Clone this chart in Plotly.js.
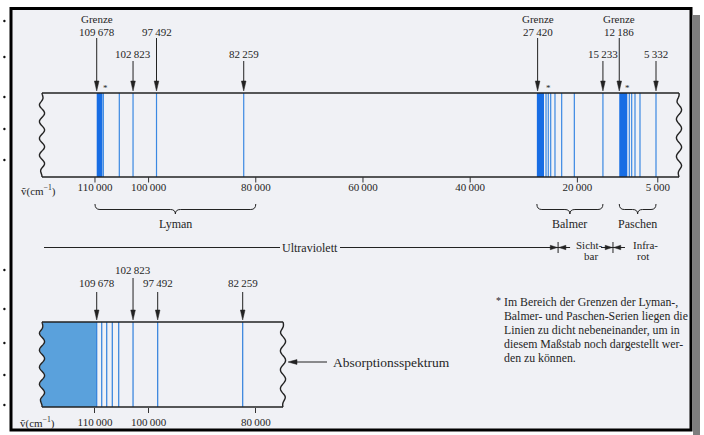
<!DOCTYPE html>
<html><head><meta charset="utf-8">
<script src="https://cdn.plot.ly/plotly-3.0.1.min.js"></script>
<style>html,body{margin:0;padding:0;background:#fff}#chart{width:704px;height:435px}</style>
</head><body><div id="chart"></div>
<script>
// ---------------- data (wavenumbers in cm^-1) ----------------
const tickValues = [110000, 100000, 80000, 60000, 40000, 20000, 5000];
const tickLabels = ['110\u2009000','100\u2009000','80\u2009000','60\u2009000','40\u2009000','20\u2009000','5\u2009000'];
const lowerTickValues = [110000, 100000, 80000];
const lowerTickLabels = ['110\u2009000','100\u2009000','80\u2009000'];

// emission spectrum (upper strip): dense bands near the series limits + single lines
const lymanBand = [108600, 109678];
const lymanLines = [108440, 105460, 102900, 98520, 82250];
const balmerBand = [26230, 27560];
const balmerLines = [25850, 25430, 24980, 24180, 22930, 20570, 15233];
const paschenBand = [10690, 12186];
const paschenLines = [10310, 9870, 9250, 8320, 5332];

// absorption spectrum (lower strip)
const absorptionLimit = 109678;
const absorptionLines = [109678, 108740, 107810, 106770, 105570, 102900, 98300, 82440];

// arrows with labels
const upperArrowPos = [109678, 102900, 98520, 82250, 27420, 15233, 12186, 5332];
const upperArrowText = ['109\u2009678','102\u2009823','97\u2009492','82\u2009259','27\u2009420','15\u2009233','12\u2009186','5\u2009332'];
const upperArrowGrenze = [true, false, false, false, true, false, true, false];
const upperArrowLevel = [0, 1, 0, 1, 0, 1, 0, 1];
const lowerArrowPos = [109678, 102900, 98300, 82440];
const lowerArrowText = ['109\u2009678','102\u2009823','97\u2009492','82\u2009259'];
const lowerArrowLevel = [1, 0, 1, 1];

const starPos = [107950, 25480, 10560];
const seriesNames = ['Lyman', 'Balmer', 'Paschen'];
const seriesFrom = [110000, 27560, 12186];
const seriesTo = [80000, 15233, 5332];
const regionBounds = [23600, 13360];

// ---------------- geometry / style ----------------
const W = 704, H = 435;
const R0 = 127720, R1 = -3623;          // x axis range (reversed wavenumber axis)
const k = (R0 - R1) / W;                // cm^-1 per pixel
const toNu = p => R0 - k * p;
const P = p => +(p / W).toFixed(5);
const SERIF = '"Liberation Serif", "Times New Roman", serif';
const TXT = '#262626';
const INK = '#222';
const BAND = '#176de4';
const LINE = '#3a88e2';
const FILL = '#5aa1dc';
const U = {top: 93, bot: 177, left: 42, right: 679};
const L = {top: 322, bot: 407, left: 42, right: 283};

function wavePts(xc, y0, y1, periods, amp, ph) {
  const pts = [], n = 60;
  for (let i = 0; i <= n; i++) {
    const t = i / n, y = y0 + (y1 - y0) * t;
    const env = Math.min(1, t * 8, (1 - t) * 8);
    pts.push([xc + amp * env * Math.sin(2 * Math.PI * periods * t + ph), y]);
  }
  return pts;
}
function wavePath(pts) {
  return pts.map((p, i) => (i ? 'L' : 'M') + P(p[0]) + ',' + p[1].toFixed(2)).join(' ');
}

const traces = [];
function vlines(vals, y0, y1) {
  const x = [], y = [];
  vals.forEach(v => { x.push(v, v, null); y.push(y0, y1, null); });
  return {x, y};
}
[lymanBand, balmerBand, paschenBand].forEach(b => {
  traces.push({type: 'scatter', mode: 'lines', x: [b[0], b[1], b[1], b[0], b[0]],
    y: [U.top, U.top, U.bot, U.bot, U.top], fill: 'toself', fillcolor: BAND,
    line: {width: 0, color: BAND}, hoverinfo: 'skip', showlegend: false, xaxis: 'x', yaxis: 'y'});
});
const ul = vlines(lymanLines.concat(balmerLines, paschenLines), U.top, U.bot);
traces.push({type: 'scatter', mode: 'lines', x: ul.x, y: ul.y, line: {color: LINE, width: 1.2},
  hoverinfo: 'skip', showlegend: false, xaxis: 'x', yaxis: 'y'});

// lower continuum fill (from wavy left edge to the series limit)
const lw = wavePts(L.left, L.top, L.bot, 5, 2.6, 0.6);
const fx = [absorptionLimit], fy = [L.top];
lw.forEach(p => { fx.push(toNu(p[0] + 0.5)); fy.push(p[1]); });
fx.push(absorptionLimit); fy.push(L.bot);
traces.push({type: 'scatter', mode: 'lines', x: fx, y: fy, fill: 'toself', fillcolor: FILL,
  line: {width: 0, color: FILL}, hoverinfo: 'skip', showlegend: false, xaxis: 'x2', yaxis: 'y'});
const ll = vlines(absorptionLines, L.top, L.bot);
traces.push({type: 'scatter', mode: 'lines', x: ll.x, y: ll.y, line: {color: '#2f7fdc', width: 1.2},
  hoverinfo: 'skip', showlegend: false, xaxis: 'x2', yaxis: 'y'});

// ---------------- shapes ----------------
const shapes = [];
shapes.push({type: 'rect', xref: 'paper', yref: 'y', x0: P(693), x1: P(700), y0: 15, y1: 435,
  fillcolor: '#7d7d7d', line: {width: 0}, layer: 'below'});
shapes.push({type: 'rect', xref: 'paper', yref: 'y', x0: P(11), x1: P(691), y0: 8.5, y1: 430,
  fillcolor: '#f0f1f5', line: {color: '#000', width: 3}, layer: 'below'});
[21, 57, 97, 129, 160, 270, 309, 343, 375, 405].forEach(y => {
  shapes.push({type: 'circle', xref: 'paper', yref: 'y', x0: P(3.2), x1: P(5.6), y0: y - 1.2, y1: y + 1.2,
    fillcolor: '#111', line: {width: 0}, layer: 'below'});
});
function strip(S, phL, phR) {
  shapes.push({type: 'line', xref: 'paper', yref: 'y', x0: P(S.left), x1: P(S.right), y0: S.top, y1: S.top, line: {color: INK, width: 1.4}});
  shapes.push({type: 'line', xref: 'paper', yref: 'y', x0: P(S.left), x1: P(S.right), y0: S.bot, y1: S.bot, line: {color: INK, width: 1.4}});
  shapes.push({type: 'path', xref: 'paper', yref: 'y', path: wavePath(wavePts(S.left, S.top, S.bot, 5, 2.6, phL)), line: {color: INK, width: 1.4}});
  shapes.push({type: 'path', xref: 'paper', yref: 'y', path: wavePath(wavePts(S.right, S.top, S.bot, 4.5, 2.6, phR)), line: {color: INK, width: 1.4}});
}
strip(U, 0.3, 2.2);
strip(L, 0.6, 1.4);

// tick marks of the upper axis (labels come from the axis itself)
tickValues.forEach(v => shapes.push({type: 'line', xref: 'x', yref: 'y', x0: v, x1: v, y0: U.bot, y1: U.bot + 5.5, line: {color: '#333', width: 1}}));

function downArrow(axis, nu, tail, tip) {
  const d = 2.3 * k;
  shapes.push({type: 'line', xref: axis, yref: 'y', x0: nu, x1: nu, y0: tail, y1: tip - 7, line: {color: INK, width: 1}});
  shapes.push({type: 'path', xref: axis, yref: 'y', path: `M${nu - d},${tip - 10} L${nu + d},${tip - 10} L${nu},${tip} Z`,
    fillcolor: INK, line: {color: INK, width: 0.5}});
}
function hHead(tipNu, y, dir) {
  const len = 7 * k, hw = 2.2;
  const base = tipNu + dir * len;
  shapes.push({type: 'path', xref: 'x', yref: 'y', path: `M${base},${y - hw} L${base},${y + hw} L${tipNu},${y} Z`,
    fillcolor: INK, line: {color: INK, width: 0.5}});
}

const annotations = [];
// x is a pixel position for paper-anchored texts, a wavenumber when xref is an axis
function txt(x, y, text, opts) {
  const o = opts || {};
  const xr = o.xref || 'paper';
  annotations.push(Object.assign({x: xr === 'paper' ? P(x) : x, y, xref: xr, yref: 'y', text, showarrow: false,
    font: {family: SERIF, size: 11, color: TXT}, xanchor: 'center', yanchor: 'middle'}, o, {xref: xr}));
}

upperArrowPos.forEach((nu, i) => {
  const lvl = upperArrowLevel[i];
  const ly = lvl ? 54 : 32, tail = lvl ? 61 : 38;
  downArrow('x', nu, tail, 91);
  txt(nu, ly, upperArrowText[i], {xref: 'x'});
  if (upperArrowGrenze[i]) txt(nu, 19, 'Grenze', {xref: 'x'});
});
lowerArrowPos.forEach((nu, i) => {
  const lvl = lowerArrowLevel[i];
  const ly = lvl ? 283 : 270, tail = lvl ? 292 : 278;
  downArrow('x2', nu, tail, 320);
  txt(nu, ly, lowerArrowText[i], {xref: 'x2'});
});
starPos.forEach(nu => txt(nu, 88, '*', {xref: 'x', font: {family: SERIF, size: 9, color: TXT}}));

seriesNames.forEach((name, i) => {
  const a = seriesFrom[i], b = seriesTo[i], m = (a + b) / 2, r = 5 * k;
  const yt = 204, yb = 209.5, yc = 214;
  shapes.push({type: 'path', xref: 'x', yref: 'y',
    path: `M${a},${yt} Q${a},${yb} ${a - r},${yb} L${m + r},${yb} Q${m},${yb} ${m},${yc} Q${m},${yb} ${m - r},${yb} L${b + r},${yb} Q${b},${yb} ${b},${yt}`,
    line: {color: INK, width: 1}});
  txt(m, 224, name, {xref: 'x', font: {family: SERIF, size: 12, color: TXT}});
});

// spectral regions line
const RY = 247.5;
shapes.push({type: 'line', xref: 'paper', yref: 'y', x0: P(44), x1: P(280), y0: RY, y1: RY, line: {color: INK, width: 1}});
shapes.push({type: 'line', xref: 'x', yref: 'y', x0: toNu(340), x1: regionBounds[0] + 6 * k, y0: RY, y1: RY, line: {color: INK, width: 1}});
txt(310, RY, 'Ultraviolett', {font: {family: SERIF, size: 12, color: TXT}});
regionBounds.forEach((nu, i) => {
  shapes.push({type: 'line', xref: 'x', yref: 'y', x0: nu, x1: nu, y0: RY - 5.5, y1: RY + 5.5, line: {color: INK, width: 1}});
  shapes.push({type: 'line', xref: 'x', yref: 'y', x0: nu + 12 * k, x1: nu - 12 * k, y0: RY, y1: RY, line: {color: INK, width: 1}});
  hHead(nu + 0.8 * k, RY, +1);
  hHead(nu - 0.8 * k, RY, -1);
});
txt(589, 245, 'Sicht-');
txt(591, 256, 'bar');
txt(646, 245, 'Infra-');
txt(643, 256, 'rot');

// absorption arrow
shapes.push({type: 'line', xref: 'paper', yref: 'y', x0: P(296), x1: P(327), y0: 362, y1: 362, line: {color: INK, width: 1}});
shapes.push({type: 'path', xref: 'paper', yref: 'y', path: `M${P(297)},359.6 L${P(297)},364.4 L${P(288)},362 Z`, fillcolor: INK, line: {color: INK, width: 0.5}});
txt(331, 362, 'Absorptionsspektrum', {xanchor: 'left', font: {family: SERIF, size: 13.5, color: TXT}});

// axis unit labels
txt(19, 190, '\u1E7D(cm<sup>\u22121</sup>)', {xanchor: 'left'});
txt(18, 422, '\u1E7D(cm<sup>\u22121</sup>)', {xanchor: 'left'});

// footnote
const foot = ['Im Bereich der Grenzen der Lyman-,', 'Balmer- und Paschen-Serien liegen die',
  'Linien zu dicht nebeneinander, um in', 'diesem Ma\u00DFstab noch dargestellt wer-', 'den zu k\u00F6nnen.'];
const footY = [302, 316, 330, 344, 358];
txt(498, 300, '*', {font: {family: SERIF, size: 10, color: TXT}});
foot.forEach((s, i) => txt(502, footY[i], s, {xanchor: 'left', font: {family: SERIF, size: 11.8, color: TXT}}));

const axisCommon = {range: [R0, R1], domain: [0, 1], anchor: 'free', showline: false, showgrid: false,
  zeroline: false, tickfont: {family: SERIF, size: 11, color: TXT}, fixedrange: true};

const layout = {
  width: W, height: H, margin: {l: 0, r: 0, t: 0, b: 0, pad: 0},
  paper_bgcolor: '#ffffff', plot_bgcolor: 'rgba(0,0,0,0)', showlegend: false,
  xaxis: Object.assign({}, axisCommon, {position: 1 - 178.5 / H, ticks: '', tickvals: tickValues, ticktext: tickLabels}),
  xaxis2: Object.assign({}, axisCommon, {position: 1 - L.bot / H, overlaying: 'x', ticks: 'outside', ticklen: 5, tickwidth: 1, tickcolor: '#333',
    tickvals: lowerTickValues, ticktext: lowerTickLabels}),
  yaxis: {range: [H, 0], domain: [0, 1], visible: false, fixedrange: true},
  shapes, annotations
};
Plotly.newPlot('chart', traces, layout, {staticPlot: true, displayModeBar: false});
</script></body></html>
